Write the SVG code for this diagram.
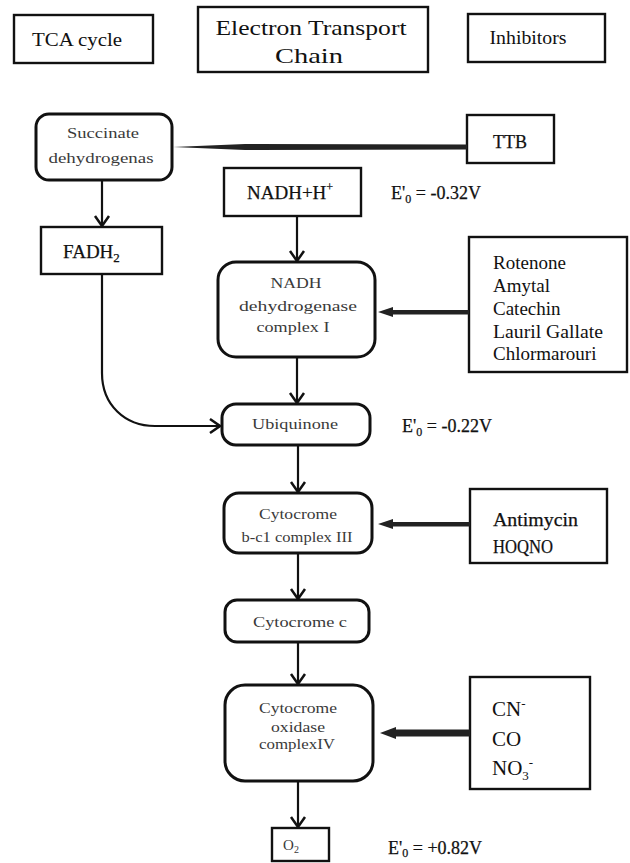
<svg xmlns="http://www.w3.org/2000/svg" width="630" height="863" viewBox="0 0 630 863">
<style>
  .box{fill:#fff;stroke:#111;stroke-width:2.4}
  .rbox{fill:#fff;stroke:#111;stroke-width:3}
  .t{font-family:"Liberation Serif","Times New Roman",serif;fill:#111}
  .b{stroke:#111;stroke-width:0.25}
  .s{font-family:"Liberation Serif","Times New Roman",serif;fill:#3a3a3a;font-size:15px;text-anchor:middle}
  .c{text-anchor:middle}
  .line{fill:none;stroke:#111;stroke-width:2.2}
  .inh{fill:#222;stroke:none}
</style>
<defs>
  <marker id="v" viewBox="-12 -10 14 20" refX="0" refY="0" markerWidth="14" markerHeight="20" markerUnits="userSpaceOnUse" orient="auto">
    <path d="M -10 -7 L 0 0 L -10 7" fill="none" stroke="#111" stroke-width="2.5"/>
  </marker>
</defs>

<g id="tca-header">
  <rect class="box" x="14" y="15" width="139" height="48"/>
  <text class="t c" x="77" y="46" font-size="19" textLength="90" lengthAdjust="spacingAndGlyphs">TCA cycle</text>
</g>
<g id="etc-header">
  <rect class="box" x="198" y="7" width="230" height="65"/>
  <text class="t c" x="311" y="35" font-size="21" textLength="191" lengthAdjust="spacingAndGlyphs">Electron Transport</text>
  <text class="t c" x="309" y="63" font-size="21" textLength="68" lengthAdjust="spacingAndGlyphs">Chain</text>
</g>
<g id="inhibitors-header">
  <rect class="box" x="468" y="14" width="137" height="48"/>
  <text class="t c" x="528" y="44" font-size="18" textLength="77" lengthAdjust="spacingAndGlyphs">Inhibitors</text>
</g>

<g id="succinate">
  <rect class="rbox" x="36" y="114" width="136" height="66" rx="13"/>
  <text class="s" x="103" y="138" textLength="72" lengthAdjust="spacingAndGlyphs">Succinate</text>
  <text class="s" x="101" y="163" textLength="105" lengthAdjust="spacingAndGlyphs">dehydrogenas</text>
</g>
<g id="fadh2">
  <rect class="box" x="41" y="227" width="121" height="47"/>
  <text class="t b" x="63" y="258" font-size="19">FADH<tspan font-size="13" dy="4">2</tspan></text>
</g>
<g id="ttb">
  <rect class="box" x="467" y="115" width="87" height="48"/>
  <text class="t c b" x="510" y="148" font-size="18">TTB</text>
</g>
<g id="nadh">
  <rect class="box" x="224" y="168" width="137" height="48"/>
  <text class="t b" x="247" y="199" font-size="19">NADH+H<tspan font-size="12" dy="-8">+</tspan></text>
</g>
<g id="e-032">
  <text class="t b" x="391" y="199" font-size="18">E'<tspan font-size="12" dy="4">0</tspan><tspan dy="-4"> = -0.32V</tspan></text>
</g>
<g id="complex1">
  <rect class="rbox" x="218" y="262" width="157" height="95" rx="18"/>
  <text class="s" x="296" y="288" textLength="51" lengthAdjust="spacingAndGlyphs">NADH</text>
  <text class="s" x="298" y="311" textLength="118" lengthAdjust="spacingAndGlyphs">dehydrogenase</text>
  <text class="s" x="293" y="332" textLength="73" lengthAdjust="spacingAndGlyphs">complex I</text>
</g>
<g id="rotenone">
  <rect class="box" x="469" y="237" width="158" height="135"/>
  <text class="t" x="493" y="269" font-size="19">Rotenone</text>
  <text class="t" x="493" y="292" font-size="19">Amytal</text>
  <text class="t" x="493" y="315" font-size="19">Catechin</text>
  <text class="t" x="493" y="338" font-size="19" textLength="110" lengthAdjust="spacingAndGlyphs">Lauril Gallate</text>
  <text class="t" x="493" y="360" font-size="19">Chlormarouri</text>
</g>
<g id="ubiquinone">
  <rect class="rbox" x="222" y="404" width="148" height="41" rx="14"/>
  <text class="s" x="295" y="429" textLength="86" lengthAdjust="spacingAndGlyphs">Ubiquinone</text>
</g>
<g id="e-022">
  <text class="t b" x="402" y="432" font-size="18">E'<tspan font-size="12" dy="4">0</tspan><tspan dy="-4"> = -0.22V</tspan></text>
</g>
<g id="complex3">
  <rect class="rbox" x="224" y="493" width="148" height="60" rx="15"/>
  <text class="s" x="298" y="519" textLength="78" lengthAdjust="spacingAndGlyphs">Cytocrome</text>
  <text class="s" x="297" y="542" textLength="111" lengthAdjust="spacingAndGlyphs">b-c1 complex III</text>
</g>
<g id="antimycin">
  <rect class="box" x="470" y="489" width="137" height="74"/>
  <text class="t b" x="493" y="526" font-size="19" textLength="85" lengthAdjust="spacingAndGlyphs">Antimycin</text>
  <text class="t b" x="493" y="553" font-size="19" textLength="60" lengthAdjust="spacingAndGlyphs">HOQNO</text>
</g>
<g id="cytc">
  <rect class="rbox" x="225" y="600" width="144" height="42" rx="12"/>
  <text class="s" x="300" y="627" textLength="94" lengthAdjust="spacingAndGlyphs">Cytocrome c</text>
</g>
<g id="complex4">
  <rect class="rbox" x="225" y="685" width="148" height="96" rx="20"/>
  <text class="s" x="298" y="713" textLength="78" lengthAdjust="spacingAndGlyphs">Cytocrome</text>
  <text class="s" x="298" y="732" textLength="54" lengthAdjust="spacingAndGlyphs">oxidase</text>
  <text class="s" x="297" y="749" textLength="76" lengthAdjust="spacingAndGlyphs">complexIV</text>
</g>
<g id="cn">
  <rect class="box" x="470" y="677" width="120" height="112"/>
  <text class="t" x="492" y="716" font-size="21">CN<tspan font-size="13" dy="-8">-</tspan></text>
  <text class="t" x="492" y="746" font-size="21">CO</text>
  <text class="t" x="492" y="775" font-size="21">NO<tspan font-size="13" dy="5">3</tspan><tspan font-size="13" dy="-13">-</tspan></text>
</g>
<g id="o2">
  <rect class="box" x="272" y="828" width="57" height="33" stroke-width="1.5"/>
  <text class="s" x="291" y="850" font-size="14">O<tspan font-size="10" dy="3">2</tspan></text>
</g>
<g id="e-082">
  <text class="t b" x="388" y="854" font-size="18">E'<tspan font-size="12" dy="3">0</tspan><tspan dy="-3"> = +0.82V</tspan></text>
</g>

<g id="connectors">
  <line class="line" x1="102" y1="180" x2="102" y2="226" marker-end="url(#v)"/>
  <line class="line" x1="297" y1="216" x2="297" y2="261" marker-end="url(#v)"/>
  <line class="line" x1="297" y1="357" x2="297" y2="403" marker-end="url(#v)"/>
  <line class="line" x1="298" y1="445" x2="298" y2="492" marker-end="url(#v)"/>
  <line class="line" x1="298" y1="553" x2="298" y2="599" marker-end="url(#v)"/>
  <line class="line" x1="298" y1="642" x2="298" y2="684" marker-end="url(#v)"/>
  <line class="line" x1="298" y1="781" x2="298" y2="827" marker-end="url(#v)"/>
  <path class="line" d="M 102 274 L 102 373 C 102 405 125 426 155 426 L 220 426" marker-end="url(#v)"/>
  <polygon class="inh" points="173,147 245,144 467,144.5 467,149.5 245,150"/>
  <polygon class="inh" points="378,312 393,307 393,310 469,310 469,314.5 393,314.5 393,317"/>
  <polygon class="inh" points="378,524 393,519 393,522 470,522 470,526.5 393,526.5 393,529"/>
  <polygon class="inh" points="380,733 396,727 396,729.5 470,729.5 470,736.5 396,736.5 396,739"/>
</g>
</svg>
